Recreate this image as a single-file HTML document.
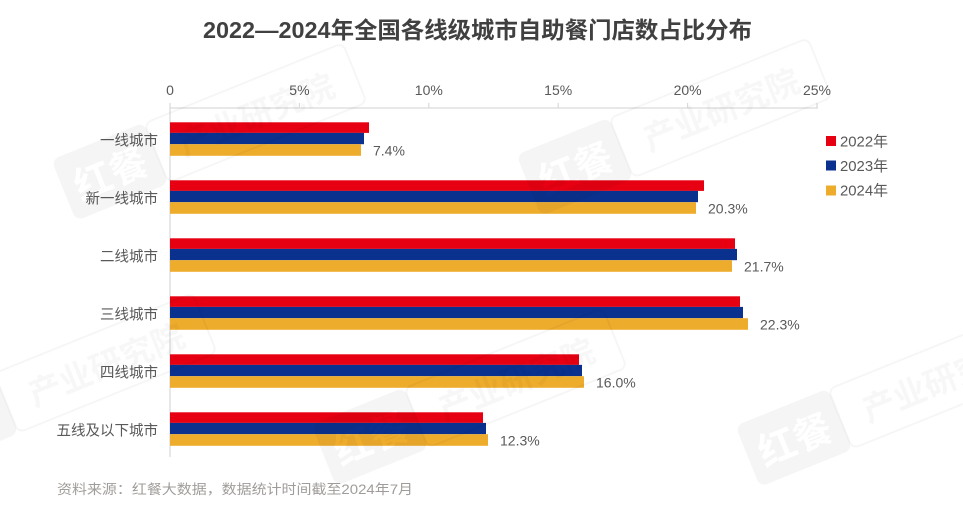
<!DOCTYPE html>
<html>
<head>
<meta charset="utf-8">
<style>
html,body{margin:0;padding:0;background:#fff;}
svg{display:block;}
text{font-family:"Liberation Sans","Noto Sans CJK SC",sans-serif;}
</style>
</head>
<body>
<svg width="963" height="510" viewBox="0 0 963 510" xmlns="http://www.w3.org/2000/svg">
<rect width="963" height="510" fill="#fff"/>
<defs>
<mask id="wm" maskUnits="userSpaceOnUse" x="-20" y="-100" width="160" height="120">
<rect x="0" y="-66" width="100" height="66" rx="8" fill="#fff"/>
<text x="50" y="-17" font-size="38" font-weight="bold" text-anchor="middle" fill="#000" font-family="Noto Sans CJK SC, sans-serif">红餐</text>
</mask>
<g id="badge">
<rect x="0" y="-66" width="100" height="66" rx="8" fill="#000" fill-opacity="0.04" mask="url(#wm)"/>
<rect x="100" y="-65" width="214" height="64" rx="7" fill="none" stroke="#000" stroke-opacity="0.035" stroke-width="2"/>
<text x="207" y="-19" font-size="33" font-weight="bold" text-anchor="middle" fill="#000" fill-opacity="0.032" font-family="Noto Sans CJK SC, sans-serif">产业研究院</text>
</g>
</defs>

<!-- Title -->
<text x="203" y="38" font-size="23" font-weight="bold" fill="#404040" textLength="549" lengthAdjust="spacingAndGlyphs">2022—2024年全国各线级城市自助餐门店数占比分布</text>

<!-- axis -->
<line x1="170" y1="108" x2="818" y2="108" stroke="#d9d9d9" stroke-width="1.2"/>
<line x1="170" y1="108" x2="170" y2="457" stroke="#d9d9d9" stroke-width="1.2"/>
<g stroke="#d9d9d9" stroke-width="1.2">
<line x1="170" y1="103" x2="170" y2="108"/>
<line x1="299.4" y1="103" x2="299.4" y2="108"/>
<line x1="428.8" y1="103" x2="428.8" y2="108"/>
<line x1="558.2" y1="103" x2="558.2" y2="108"/>
<line x1="687.6" y1="103" x2="687.6" y2="108"/>
<line x1="817" y1="103" x2="817" y2="108"/>
</g>
<g font-size="14" fill="#595959" text-anchor="middle">
<text x="170" y="95">0</text>
<text x="299.4" y="95">5%</text>
<text x="428.8" y="95">10%</text>
<text x="558.2" y="95">15%</text>
<text x="687.6" y="95">20%</text>
<text x="817" y="95">25%</text>
</g>

<!-- bars -->
<g>
<rect x="170" y="122.3" width="199" height="10.6" fill="#E60012"/>
<rect x="170" y="132.9" width="194" height="11.3" fill="#0B318F"/>
<rect x="170" y="144.2" width="191" height="11.6" fill="#EEAC2C"/>
<rect x="170" y="180.3" width="534" height="10.6" fill="#E60012"/>
<rect x="170" y="190.9" width="528" height="11.3" fill="#0B318F"/>
<rect x="170" y="202.2" width="526" height="11.6" fill="#EEAC2C"/>
<rect x="170" y="238.3" width="565" height="10.6" fill="#E60012"/>
<rect x="170" y="248.9" width="567" height="11.3" fill="#0B318F"/>
<rect x="170" y="260.2" width="562" height="11.6" fill="#EEAC2C"/>
<rect x="170" y="296.3" width="570" height="10.6" fill="#E60012"/>
<rect x="170" y="306.9" width="573" height="11.3" fill="#0B318F"/>
<rect x="170" y="318.2" width="578" height="11.6" fill="#EEAC2C"/>
<rect x="170" y="354.3" width="409" height="10.6" fill="#E60012"/>
<rect x="170" y="364.9" width="412" height="11.3" fill="#0B318F"/>
<rect x="170" y="376.2" width="414" height="11.6" fill="#EEAC2C"/>
<rect x="170" y="412.3" width="313" height="10.6" fill="#E60012"/>
<rect x="170" y="422.9" width="316" height="11.3" fill="#0B318F"/>
<rect x="170" y="434.2" width="318" height="11.6" fill="#EEAC2C"/>
</g>

<!-- value labels -->
<g font-size="14" fill="#595959">
<text x="373" y="155.5">7.4%</text>
<text x="708" y="213.5">20.3%</text>
<text x="744" y="271.5">21.7%</text>
<text x="760" y="329.5">22.3%</text>
<text x="596" y="387.5">16.0%</text>
<text x="500" y="445.5">12.3%</text>
</g>

<!-- category labels -->
<g font-size="14.5" fill="#595959" text-anchor="end">
<text x="158" y="145.5">一线城市</text>
<text x="158" y="203.5">新一线城市</text>
<text x="158" y="261.5">二线城市</text>
<text x="158" y="319.5">三线城市</text>
<text x="158" y="377.5">四线城市</text>
<text x="158" y="435.5">五线及以下城市</text>
</g>

<!-- legend -->
<rect x="826" y="136" width="10" height="10" fill="#E60012"/>
<rect x="826" y="160.5" width="10" height="10" fill="#0B318F"/>
<rect x="826" y="185.5" width="10" height="10" fill="#EEAC2C"/>
<g font-size="15" fill="#595959">
<text x="840" y="146.5" textLength="48" lengthAdjust="spacingAndGlyphs">2022年</text>
<text x="840" y="171" textLength="48" lengthAdjust="spacingAndGlyphs">2023年</text>
<text x="840" y="195.5" textLength="48" lengthAdjust="spacingAndGlyphs">2024年</text>
</g>

<!-- footnote -->
<text x="57" y="494" font-size="13.5" fill="#a09c99" textLength="356" lengthAdjust="spacingAndGlyphs">资料来源：红餐大数据，数据统计时间截至2024年7月</text>

<!-- watermarks -->
<use href="#badge" transform="translate(76,221) rotate(-22)"/>
<use href="#badge" transform="translate(541,216) rotate(-22)"/>
<use href="#badge" transform="translate(336,486) rotate(-22)"/>
<use href="#badge" transform="translate(760,487) rotate(-22)"/>
<use href="#badge" transform="translate(-74,471) rotate(-22)"/>
</svg>
</body>
</html>
